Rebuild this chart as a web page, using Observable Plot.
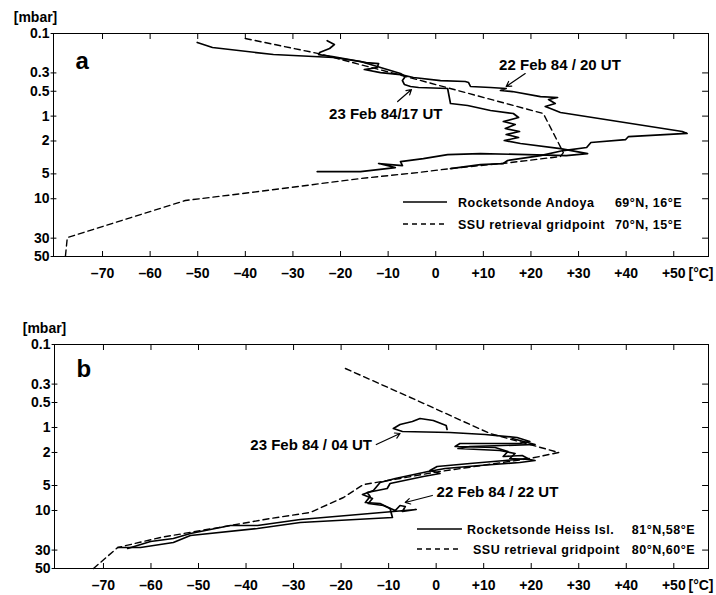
<!DOCTYPE html>
<html><head><meta charset="utf-8">
<script src="https://cdn.jsdelivr.net/npm/d3@7"></script>
<script src="https://cdn.jsdelivr.net/npm/@observablehq/plot@0.6"></script>
<style>body{margin:0;background:#fff;} svg{display:block;} </style>
</head><body><div id="chart"></div>
<script>
// ---- tick values ----
const xTicks = [-70,-60,-50,-40,-30,-20,-10,0,10,20,30,40,50];
const yTicks = [0.1,0.3,0.5,1,2,5,10,30,50];

// ---- panel a: [temperature °C, pressure mbar] ----
const aRocket22 = [[-22.8,0.122],[-21.3,0.136],[-22.3,0.152],[-24.4,0.170],[-24.6,0.180],[-21.7,0.190],[-14.6,0.225],[-12.0,0.231],[-12.3,0.258],[-15.0,0.273],[-11.6,0.297],[-7.4,0.314],[-4.7,0.341],[1.0,0.371],[6.2,0.381],[6.9,0.392],[7.3,0.438],[11.5,0.4505],[14.8,0.463],[13.6,0.490],[16.1,0.504],[22.0,0.580],[25.6,0.595],[23.7,0.630],[25.1,0.704],[23.0,0.765],[24.1,0.809],[26.2,0.904],[51.8,1.536],[52.8,1.62],[40.5,1.766],[39.9,1.92],[32.6,2.087],[31.7,2.399],[26.8,2.609],[22.0,3.0],[15.1,3.447],[14.2,3.748],[9.4,3.855],[3.1,4.31]];
const aRocket23 = [[-50.1,0.1285],[-46.9,0.1477],[-34.1,0.1796],[-21.5,0.1953],[-15.8,0.2183],[-9.5,0.2805],[-7.4,0.305],[-6.4,0.332],[-7.0,0.371],[-6.6,0.414],[-5.3,0.438],[-3.6,0.4505],[2.5,0.463],[2.7,0.533],[3.1,0.704],[6.7,0.744],[11.5,0.855],[16.3,0.930],[17.4,1.040],[14.2,1.162],[16.7,1.264],[14.6,1.413],[17.6,1.536],[14.8,1.670],[17.4,1.816],[14.4,1.974],[17.8,2.146],[26.2,2.468],[31.9,2.837],[27.4,3.0],[9.4,2.837],[2.5,2.917],[-2.6,3.261],[-7.4,3.545],[-7.0,3.964],[-12.0,3.748],[-8.5,4.191],[-15.8,4.685],[-24.9,4.685]];
const aSSU = [[-40.0,0.115],[-24.6,0.175],[-4.7,0.351],[22.6,0.930],[26.8,2.76],[26.2,3.08],[15.7,3.65],[3.1,4.31],[-3.8,4.82],[-15.8,5.69],[-38.9,8.41],[-52.6,10.5],[-77.4,29.5],[-77.8,50]];

// ---- panel b ----
const bRocket23 = [[2.3,1.057],[2.1,0.946],[-0.6,0.824],[-3.4,0.779],[-5.0,0.847],[-7.6,0.920],[-9.0,1.028],[-7.1,1.117],[2.9,1.149],[10.3,1.214],[17.0,1.319],[19.7,1.475],[17.6,1.559],[5.0,1.559],[4.0,1.694],[12.4,1.742],[15.1,1.946],[14.1,2.236],[18.1,2.175],[19.3,2.363],[14.5,2.498],[7.1,2.715],[0.2,2.951],[-1.3,3.297],[0.8,3.583],[-2.7,3.894],[-9.7,4.729],[-10.3,5.43],[-14.5,6.069],[-13.9,6.782],[-14.9,8.009],[-11.8,8.235],[-9.7,9.461],[-9.2,12.14],[-28.6,13.95],[-37.6,16.48],[-51.7,20.01],[-55.3,24.30],[-62.2,27.92],[-67.0,27.92]];
const bRocket22 = [[16.0,1.356],[20.8,1.603],[7.1,1.694],[4.6,1.791],[13.4,1.893],[16.6,2.057],[15.5,2.363],[19.7,2.430],[20.8,2.498],[17.6,2.641],[9.2,2.870],[1.9,3.119],[-1.7,3.390],[-8.6,4.117],[-11.8,4.600],[-13.2,5.741],[-15.5,6.416],[-13.4,7.17],[-14.3,8.235],[-11.1,8.706],[-8.6,10.0],[-7.6,8.706],[-6.5,8.95],[-7.1,10.28],[-4.2,9.727],[-9.0,10.28],[-28.6,12.84],[-37.6,15.16],[-43.3,15.16],[-51.7,18.93],[-55.3,21.75],[-60.1,23.64],[-64.9,28.70]];
const bSSU = [[-19.1,0.1946],[-4.0,0.4728],[11.3,1.181],[25.8,2.001],[19.7,2.363],[-0.6,3.486],[-7.6,4.117],[-15.3,4.862],[-19.5,6.972],[-26.5,10.57],[-34.9,12.49],[-43.3,15.16],[-58.0,21.15],[-67.0,27.92],[-72.1,50]];

// ---- annotations (label position and arrow, in data units) ----
const aNotes = [
  {label:"22 Feb 84 / 20 UT", T:26.1, p:0.244, T1:18.8, p1:0.305, T2:14.8, p2:0.438},
  {label:"23 Feb 84/17 UT", T:-10.5, p:0.956, T1:-8.0, p1:0.6655, T2:-5.1, p2:0.4766}
];
const bNotes = [
  {label:"23 Feb 84 / 04 UT", T:-26.3, p:1.648, T1:-12.6, p1:1.603, T2:-7.6, p2:1.181},
  {label:"22 Feb 84 / 22 UT", T:12.9, p:6.069, T1:-0.8, p1:6.595, T2:-6.5, p2:8.009}
];

// ---- legend texts ----
const aLegend = [
  {name:"Rocketsonde Andoya", coord:"69°N, 16°E", dash:false},
  {name:"SSU retrieval gridpoint", coord:"70°N, 15°E", dash:true}
];
const bLegend = [
  {name:"Rocketsonde Heiss Isl.", coord:"81°N,58°E", dash:false},
  {name:"SSU retrieval gridpoint", coord:"80°N,60°E", dash:true}
];

const FONT = "'Liberation Sans', Arial, Helvetica, sans-serif";
const xDomain = [-80.3, 57.3];
const fmtX = d => d > 0 ? "+" + d : d < 0 ? "\u2013" + (-d) : "0";
const toObj = arr => arr.map(([T, p]) => ({T, p}));
const tickShape = {draw(context, l) { context.moveTo(0, 0); context.lineTo(0, -l); }};

function panel(o) {
  const marks = [
    Plot.frame({stroke: "black", strokeWidth: 1}),
    Plot.axisX({anchor: "bottom", ticks: xTicks, tickSize: -5, tickPadding: 17, tickFormat: fmtX, label: null, fontSize: 14, fontWeight: "bold"}),
    Plot.axisX({anchor: "top", ticks: xTicks, tickSize: -5, tickFormat: () => "", label: null}),
    // y ticks (left: crossing the frame, right: inward) and labels
    Plot.vector(yTicks, {y: d => d, frameAnchor: "left", rotate: 90, length: 5, anchor: "middle", shape: tickShape, stroke: "black", strokeWidth: 1}),
    Plot.vector(yTicks, {y: d => d, frameAnchor: "right", rotate: -90, length: 6, anchor: "start", shape: tickShape, stroke: "black", strokeWidth: 1}),
    Plot.text(yTicks, {y: d => d, text: d => String(d), frameAnchor: "left", dx: -4, textAnchor: "end", lineAnchor: "middle", fontSize: 14, fontWeight: "bold"}),
    ...o.solid.map(s => Plot.line(toObj(s), {x: "T", y: "p", stroke: "black", strokeWidth: 1.7, strokeLinejoin: "round"})),
    Plot.line(toObj(o.dashed), {x: "T", y: "p", stroke: "black", strokeWidth: 1.4, strokeDasharray: "6,4"}),
    Plot.arrow(o.notes, {x1: "T1", y1: "p1", x2: "T2", y2: "p2", stroke: "black", strokeWidth: 1.2, headLength: 7, bend: 0}),
    Plot.text(o.notes, {x: "T", y: "p", text: "label", fontSize: 15, fontWeight: "bold", textAnchor: "middle", lineAnchor: "middle"}),
    Plot.text([o.letter], {frameAnchor: "top-left", text: d => d, dx: 22, dy: o.letterDy, fontSize: 24, fontWeight: "bold", textAnchor: "start", lineAnchor: "middle"}),
    Plot.text(["[mbar]"], {frameAnchor: "top-left", text: d => d, dx: o.mbarDx, dy: -16, fontSize: 14, fontWeight: "bold", textAnchor: "middle", lineAnchor: "middle"}),
    Plot.text(["[°C]"], {frameAnchor: "bottom-right", text: d => d, dx: -20, dy: 17, fontSize: 14, fontWeight: "bold", textAnchor: "start", lineAnchor: "middle"})
  ];
  const svg = Plot.plot({
    width: 716, height: o.height,
    marginTop: o.marginTop, marginBottom: o.marginBottom, marginLeft: o.marginLeft, marginRight: 8,
    x: {domain: xDomain, label: null},
    y: {type: "log", domain: [0.1, 50], reverse: true, label: null, axis: null},
    style: {fontFamily: FONT, color: "black", background: "white", overflow: "visible"},
    marks
  });
  // legend inside the frame
  const g = d3.select(svg).append("g").attr("font-family", FONT).attr("font-size", 12.5).attr("font-weight", "bold").attr("fill", "black");
  o.legend.forEach((r, i) => {
    const y = o.legendY + i * o.legendStep;
    g.append("line").attr("x1", o.lx1).attr("x2", o.lx2).attr("y1", y).attr("y2", y)
      .attr("stroke", "black").attr("stroke-width", 1.4).attr("stroke-dasharray", r.dash ? "5,4" : null);
    g.append("text").attr("x", o.nameX[i]).attr("y", y + 4.5).attr("text-anchor", "start").style("letter-spacing", "0.5px").text(r.name);
    g.append("text").attr("x", o.coordX).attr("y", y + 4.5).attr("text-anchor", "end").style("letter-spacing", "0.5px").text(r.coord);
  });
  return svg;
}

const root = document.getElementById("chart");
root.appendChild(panel({
  height: 290, marginTop: 33, marginBottom: 34, marginLeft: 53,
  solid: [aRocket22, aRocket23], dashed: aSSU, notes: aNotes,
  letter: "a", letterDy: 28, mbarDx: -18,
  legend: aLegend, legendY: 202, legendStep: 22, lx1: 403, lx2: 447, nameX: [458, 458], coordX: 682
}));
root.appendChild(panel({
  height: 305, marginTop: 54, marginBottom: 27, marginLeft: 54,
  solid: [bRocket23, bRocket22], dashed: bSSU, notes: bNotes,
  letter: "b", letterDy: 25, mbarDx: -10,
  legend: bLegend, legendY: 239, legendStep: 20, lx1: 417, lx2: 462, nameX: [467, 473], coordX: 695
}));
</script>
</body></html>
